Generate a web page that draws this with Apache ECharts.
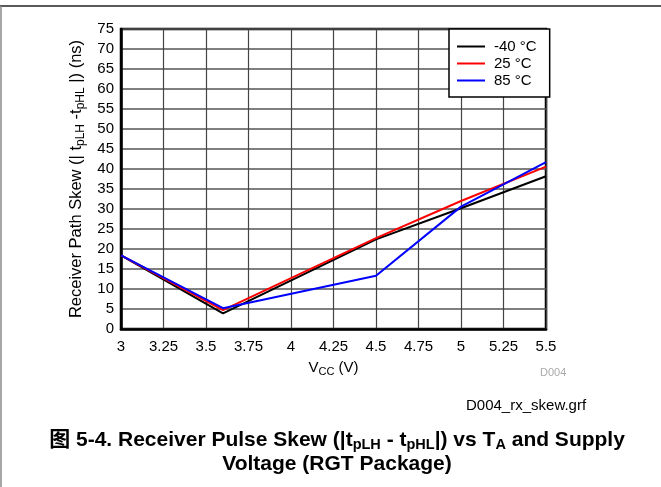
<!DOCTYPE html>
<html>
<head>
<meta charset="utf-8">
<script src="https://cdn.jsdelivr.net/npm/echarts@6/dist/echarts.min.js"></script>
<style>
html,body{margin:0;padding:0;background:#fff;}
#c{width:661px;height:487px;}
</style>
</head>
<body>
<div id="c"></div>
<script>
const vcc = [3, 3.6, 4.5, 5, 5.5];
const skewM40 = [18.4, 3.9, 22.4, 30.2, 38.2];
const skew25 = [18.4, 4.7, 22.7, 32.0, 40.6];
const skew85 = [18.4, 5.2, 13.3, 30.6, 41.7];
const seriesNames = ['-40 °C', '25 °C', '85 °C'];
const seriesColors = ['#000000', '#ff0000', '#0000ff'];

const FONT = '"Liberation Sans", Arial, "Noto Sans CJK SC", sans-serif';
const chart = echarts.init(document.getElementById('c'), null, {renderer: 'canvas'});

function pairs(ys) { return vcc.map((x, i) => [x, ys[i]]); }
const allData = [skewM40, skew25, skew85];

const titleRich = {
  b: {fontFamily: FONT, fontWeight: 'bold', fontSize: 21, lineHeight: 24, fill: '#000', color: '#000'},
  bs: {fontFamily: FONT, fontWeight: 'bold', fontSize: 14.5, lineHeight: 14, verticalAlign: 'bottom', fill: '#000', color: '#000'}
};

chart.setOption({
  animation: false,
  backgroundColor: '#fff',
  textStyle: {fontFamily: FONT},
  grid: {left: 121, top: 29, right: 115, bottom: 158, show: true, borderColor: '#000', borderWidth: 2.5, backgroundColor: 'transparent'},
  legend: {
    orient: 'vertical',
    left: 449,
    top: 29,
    padding: [10, 13, 9, 8],
    itemGap: 2,
    itemWidth: 28,
    itemHeight: 2,
    icon: 'rect',
    backgroundColor: '#fff',
    borderColor: '#000',
    borderWidth: 1.5,
    borderRadius: 0,
    textStyle: {fontFamily: FONT, fontSize: 15, color: '#000', padding: [0,0,0,4]},
    data: seriesNames
  },
  xAxis: {
    type: 'value',
    min: 3, max: 5.5, interval: 0.25,
    axisLine: {show: true, lineStyle: {color: '#000', width: 2.5}},
    axisTick: {show: false},
    axisLabel: {fontFamily: FONT, fontSize: 15, color: '#000', margin: 10, formatter: v => String(+v.toFixed(2))},
    splitLine: {show: true, lineStyle: {color: '#444', width: 1.2}},
    name: '{n|V}{s|CC}{n| (V)}',
    nameLocation: 'middle',
    nameGap: 30,
    nameTextStyle: {
      rich: {
        n: {fontFamily: FONT, fontSize: 15, color: '#000', lineHeight: 18},
        s: {fontFamily: FONT, fontSize: 11, color: '#000', lineHeight: 11, verticalAlign: 'bottom'}
      }
    }
  },
  yAxis: {
    type: 'value',
    min: 0, max: 75, interval: 5,
    axisLine: {show: true, lineStyle: {color: '#000', width: 2.5}},
    axisTick: {show: false},
    axisLabel: {fontFamily: FONT, fontSize: 15, color: '#000', margin: 7},
    splitLine: {show: true, lineStyle: {color: '#555', width: 1.5}},
    name: '{n|Receiver Path Skew (| t}{s|pLH}{n| -t}{s|pHL}{n| |) (ns)}',
    nameLocation: 'middle',
    nameRotate: 90,
    nameGap: 31,
    nameTextStyle: {
      rich: {
        n: {fontFamily: FONT, fontSize: 16.5, color: '#000', lineHeight: 20},
        s: {fontFamily: FONT, fontSize: 12, color: '#000', lineHeight: 12, verticalAlign: 'bottom'}
      }
    }
  },
  graphic: [
    {type: 'line', shape: {x1: 0, y1: 6, x2: 661, y2: 6}, style: {stroke: '#222', lineWidth: 1.5}, z: 100},
    {type: 'line', shape: {x1: 1, y1: 6, x2: 1, y2: 487}, style: {stroke: '#888', lineWidth: 1.5}, z: 100},
    {type: 'text', left: 540, top: 367, style: {text: 'D004', fontFamily: FONT, fontSize: 11, fill: '#aaa'}},
    {type: 'text', left: 466, top: 398, style: {text: 'D004_rx_skew.grf', fontFamily: FONT, fontSize: 15, fill: '#000'}},
    {type: 'text', x: 337, y: 428, style: {
      text: '{b|图 5-4. Receiver Pulse Skew (|t}{bs|pLH}{b| - t}{bs|pHL}{b||) vs T}{bs|A}{b| and Supply}\n{b|Voltage (RGT Package)}',
      align: 'center', verticalAlign: 'top', rich: titleRich, fontFamily: FONT, fill: '#000'
    }}
  ],
  series: seriesNames.map((n, i) => ({
    name: n,
    type: 'line',
    data: pairs(allData[i]),
    showSymbol: false,
    symbol: 'none',
    color: seriesColors[i],
    lineStyle: {color: seriesColors[i], width: 2},
    itemStyle: {color: seriesColors[i]},
    z: 3 + i
  }))
});
</script>
</body>
</html>
